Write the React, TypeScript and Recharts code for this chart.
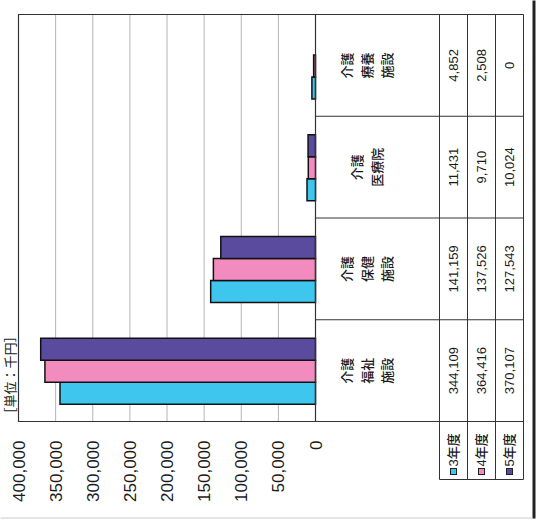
import { BarChart, Bar, XAxis, YAxis, CartesianGrid, ReferenceArea } from 'recharts';

// the scanned chart sits on its side, so it is drawn upright and turned by CSS
const categories = ['介護\n福祉\n施設', '介護\n保健\n施設', '介護\n医療院', '介護\n療養\n施設'];
const years = ['3年度', '4年度', '5年度'];
const values3 = [344109, 141159, 11431, 4852];
const values4 = [364416, 137526, 9710, 2508];
const values5 = [370107, 127543, 10024, 0];
const yTicks = [0, 50000, 100000, 150000, 200000, 250000, 300000, 350000, 400000];

const COLORS = ['#3fc6ef', '#f28cbf', '#5b4b9e'];
const series = [values3, values4, values5];

const W = 521;
const H = 538;
const PLOT_LEFT = 100;
const PLOT_RIGHT = 507;
const BAND = (PLOT_RIGHT - PLOT_LEFT) / categories.length;
const LABEL_ROW = 124;
const ROW_H = 28;
const LEGEND_LEFT = 42;
const LINE = '#333';
const FONT = '"Liberation Sans", "Noto Sans CJK JP", sans-serif';

const data = categories.map((name, i) => ({
  name,
  y3: values3[i],
  y4: values4[i],
  y5: values5[i],
}));

const fmt = (v: number) => v.toLocaleString('en-US');

function TableTick(props: any) {
  const { x, y, payload } = props;
  const i = categories.indexOf(payload.value);
  const lines = String(payload.value).split('\n');
  const top = y;
  const bottom = top + LABEL_ROW + ROW_H * 3;
  const labelCenter = top + 51;
  return (
    <g fontFamily={FONT} fill="#1a1a1a">
      <line x1={x + BAND / 2} x2={x + BAND / 2} y1={top} y2={bottom} stroke={LINE} />
      {lines.map((ln, k) => (
        <text
          key={k}
          x={x}
          y={labelCenter + (k - (lines.length - 1) / 2) * 20 + 5}
          textAnchor="middle"
          fontSize={13}
          fontWeight={500}
        >
          {ln}
        </text>
      ))}
      {series.map((vals, s) => (
        <text
          key={s}
          x={x}
          y={top + LABEL_ROW + ROW_H * s + ROW_H / 2 + 4.5}
          textAnchor="middle"
          fontSize={13}
        >
          {fmt(vals[i])}
        </text>
      ))}
      {i === 0 && (
        <g>
          <line x1={PLOT_LEFT} x2={PLOT_LEFT} y1={top} y2={bottom} stroke={LINE} />
          <line x1={LEGEND_LEFT} x2={LEGEND_LEFT} y1={top + LABEL_ROW} y2={bottom} stroke={LINE} />
          {[0, 1, 2, 3].map((r) => (
            <line
              key={r}
              x1={LEGEND_LEFT}
              x2={PLOT_RIGHT}
              y1={top + LABEL_ROW + ROW_H * r}
              y2={top + LABEL_ROW + ROW_H * r}
              stroke={LINE}
            />
          ))}
          {years.map((yr, s) => {
            const cy = top + LABEL_ROW + ROW_H * s + ROW_H / 2;
            return (
              <g key={yr}>
                <rect x={47} y={cy - 3} width={6} height={6} fill={COLORS[s]} stroke="#222" strokeWidth={1} />
                <text x={55} y={cy + 4.5} fontSize={13} fontWeight={500}>
                  {yr}
                </text>
              </g>
            );
          })}
        </g>
      )}
    </g>
  );
}

export default function App() {
  return (
    <div style={{ position: 'fixed', left: 0, top: 0, width: 538, height: 521, background: '#fff' }}>
      <div
        style={{
          position: 'absolute',
          left: 8.5,
          top: -8.5,
          width: W,
          height: H,
          transform: 'rotate(-90deg)',
          background: '#fff',
        }}
      >
        <BarChart
          width={W}
          height={H}
          data={data}
          margin={{ top: 18, right: W - PLOT_RIGHT, left: 0, bottom: 0 }}
          barCategoryGap="17%"
          barGap={0}
        >
          <text x={101} y={14} fontSize={13} fontFamily={FONT} fill="#222">
            ［単位：千円］
          </text>
          <CartesianGrid vertical={false} stroke="#b5b5b5" />
          <XAxis
            dataKey="name"
            interval={0}
            height={H - 315}
            tickLine={false}
            tickSize={0}
            tickMargin={0}
            axisLine={{ stroke: LINE }}
            tick={<TableTick />}
          />
          <YAxis
            width={PLOT_LEFT}
            domain={[0, 400000]}
            ticks={yTicks}
            tickFormatter={fmt}
            tickLine={false}
            tickSize={0}
            tickMargin={19}
            axisLine={{ stroke: LINE }}
            tick={{ fill: '#1a1a1a', fontSize: 17, fontFamily: FONT }}
          />
          <ReferenceArea y1={0} y2={400000} fill="none" stroke={LINE} strokeWidth={1.2} />
          {['y3', 'y4', 'y5'].map((k, s) => (
            <Bar
              key={k}
              dataKey={k}
              name={years[s]}
              fill={COLORS[s]}
              stroke="#111"
              strokeWidth={1.5}
              isAnimationActive={false}
            />
          ))}
        </BarChart>
        <div style={{ position: 'absolute', left: 3, top: 532, width: W - 3, height: 3, background: '#222' }} />
        <div style={{ position: 'absolute', left: 3, top: 0, width: 1, height: 532, background: '#ccc' }} />
      </div>
    </div>
  );
}
